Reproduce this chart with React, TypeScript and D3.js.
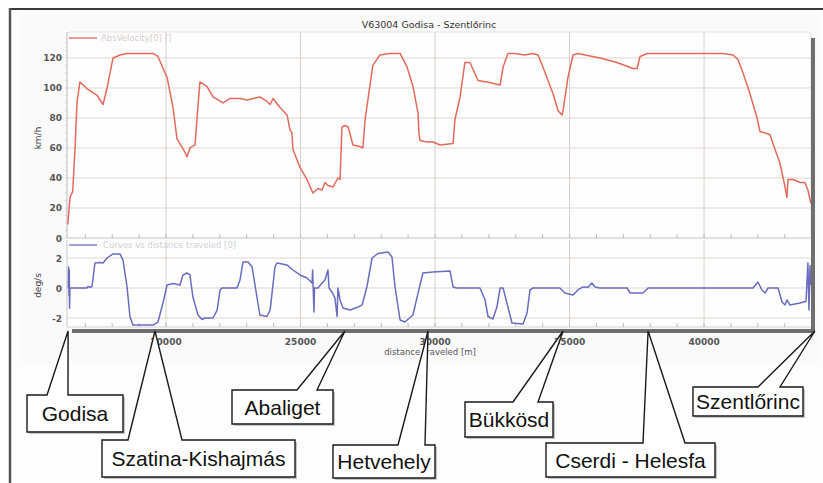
import * as d3 from "d3";

// distance traveled [m] and absolute velocity [km/h]
const velDist = [16350, 16430, 16530, 16620, 16690, 16800, 17100, 17440, 17660, 17810, 18030, 18290, 18550, 19030, 19520, 19700, 20040, 20260, 20410, 20710, 20780, 20890, 21080, 21150, 21260, 21520, 21750, 22120, 22380, 22750, 23010, 23230, 23490, 23750, 23870, 23980, 24240, 24500, 24610, 24680, 24720, 24980, 25240, 25460, 25650, 25800, 25910, 26020, 26210, 26360, 26390, 26470, 26540, 26650, 26770, 26950, 27210, 27320, 27400, 27690, 27950, 28330, 28700, 28960, 29180, 29370, 29400, 29440, 29700, 29920, 30190, 30670, 30740, 30930, 31110, 31300, 31600, 31930, 32420, 32530, 32710, 32970, 33340, 33640, 33830, 34010, 34390, 34570, 34720, 34760, 34940, 35130, 35310, 36130, 36760, 37360, 37510, 37620, 37880, 38620, 39850, 40700, 41080, 41260, 41450, 41710, 41970, 42080, 42450, 42560, 42820, 43010, 43080, 43120, 43310, 43570, 43750, 43860, 43970];
const velValue = [9, 27, 31, 60, 90, 104, 99, 95, 89, 100, 120, 122, 123, 123, 123, 121, 107, 87, 66, 57, 54, 60, 62, 79, 104, 101, 94, 90, 93, 93, 92, 93, 94, 91, 89, 93, 87, 82, 72, 70, 59, 47, 39, 30, 33, 32, 37, 35, 34, 39, 40, 39, 74, 75, 74, 62, 61, 60, 79, 115, 122, 123, 123, 114, 101, 83, 70, 65, 64, 64, 62, 63, 79, 94, 117, 117, 105, 104, 102, 114, 123, 123, 122, 123, 122, 114, 96, 85, 82, 85, 107, 122, 123, 120, 117, 113, 113, 121, 123, 123, 123, 123, 122, 119, 110, 96, 80, 71, 69, 63, 50, 34, 27, 39, 39, 37, 37, 32, 23];

// distance traveled [m] and curvature [deg/s]
const curveDist = [16360, 16370, 16380, 16395, 16405, 16415, 16430, 16510, 17060, 17100, 17180, 17250, 17360, 17550, 17660, 17810, 18030, 18290, 18400, 18550, 18660, 18770, 19520, 19700, 19850, 20040, 20260, 20520, 20630, 20780, 20890, 21000, 21190, 21340, 21450, 21750, 21900, 22010, 22080, 22640, 22750, 22860, 23050, 23200, 23380, 23490, 23750, 23870, 24050, 24130, 24500, 24720, 24980, 25240, 25430, 25450, 25470, 25500, 25520, 25650, 25800, 25910, 26020, 26060, 26170, 26280, 26360, 26390, 26470, 26580, 26840, 27140, 27290, 27470, 27660, 27880, 28250, 28400, 28510, 28700, 28880, 29180, 29370, 29550, 29920, 30560, 30670, 30820, 31670, 31860, 31970, 32150, 32300, 32420, 32530, 32710, 32860, 33270, 33420, 33530, 33640, 34640, 34830, 35130, 35310, 35500, 35690, 35830, 35950, 36130, 37140, 37250, 37730, 37920, 41820, 42000, 42150, 42270, 42380, 42750, 42900, 43010, 43080, 43190, 43570, 43680, 43790, 43860, 43900, 43940, 43970];
const curveValue = [0, 0, 1.4, -0.5, 1.2, -1.35, 0, 0, 0, 0.1, 0.05, 0.1, 1.67, 1.7, 1.67, 2.0, 2.27, 2.27, 1.87, 0.1, -1.9, -2.47, -2.47, -2.27, -1.27, 0.2, 0.3, 0.2, 0.87, 1.0, 0.87, -0.6, -1.8, -2.1, -2.0, -2.0, -1.47, -0.13, 0, 0, 0.53, 1.73, 1.73, 1.4, -0.6, -1.8, -1.9, -1.47, 1.4, 1.67, 1.53, 1.2, 0.87, 0.67, 0.33, 1.2, 0.1, -1.6, 0, 0, 0.33, 0.53, 1.2, 0, -0.27, -0.67, -1.9, 0, -0.8, -1.33, -1.47, -1.27, -1.13, 0.1, 2.0, 2.3, 2.4, 2.07, 0.1, -2.13, -2.27, -1.8, -0.33, 1.0, 1.07, 1.13, 0.07, 0, 0, -0.8, -1.9, -2.07, -1.27, 0, 0, -1.27, -2.33, -2.4, -1.67, -0.13, 0, 0, -0.33, -0.47, -0.13, 0.07, 0.05, 0.33, 0.07, 0, 0, -0.33, -0.33, 0, 0, 0.4, -0.13, -0.33, 0, 0, -0.93, -1.13, -0.8, -1.13, -1.0, -0.93, -0.9, 1.67, -1.47, 1.5, 0.2];

const xTicks = [20000, 25000, 30000, 35000, 40000];
const velTicks = [0, 20, 40, 60, 80, 100, 120];
const curveTicks = [-2, 0, 2];

const stationNames = ["Godisa", "Szatina-Kishajmás", "Abaliget", "Hetvehely", "Bükkösd", "Cserdi - Helesfa", "Szentlőrinc"];
const stationDist = [16360, 19590, 26650, 29740, 34760, 37920, 44120];

// callout box layout: box left/top/right/bottom and pointer base x on the box top
const calloutBoxes = [
  { x0: 27, y0: 395, x1: 123, y1: 432, b0: 47, b1: 68 },
  { x0: 102, y0: 440, x1: 295, y1: 477, b0: 128, b1: 182 },
  { x0: 232, y0: 390, x1: 333, y1: 424, b0: 297, b1: 317 },
  { x0: 333, y0: 445, x1: 435, y1: 478, b0: 398, b1: 425 },
  { x0: 465, y0: 402, x1: 553, y1: 437, b0: 513, b1: 538 },
  { x0: 546, y0: 443, x1: 715, y1: 477, b0: 643, b1: 685 },
  { x0: 693, y0: 387, x1: 803, y1: 416, b0: 758, b1: 780 },
];

const W = 823;
const H = 483;
const left = 67;
const right = 811;
const topA = 32;
const bottomA = 238;
const topB = 240;
const bottomB = 327;
const tipY = 331;

export default function App() {
  const x = d3.scaleLinear().domain([16320, 43975]).range([left, right]);
  const yA = d3.scaleLinear().domain([0, 137.3]).range([bottomA, topA]);
  const yB = d3.scaleLinear().domain([-2.6, 3.2]).range([bottomB, topB]);

  const velPts = velDist.map((d, i) => [d, velValue[i]] as [number, number]);
  const curvePts = curveDist.map((d, i) => [d, curveValue[i]] as [number, number]);

  const velLine = d3.line<[number, number]>().x(d => x(d[0])).y(d => yA(d[1]));
  const curveLine = d3.line<[number, number]>().x(d => x(d[0])).y(d => yB(d[1]));

  // minor ticks every 1000 m
  const minor = d3.range(17000, 44000, 1000);
  const velMinor = d3.range(0, 135, 5);

  const font = "DejaVu Sans, sans-serif";
  const gridCol = "#e2d6d0";
  const vGridCol = "#d6cfcb";

  return (
    <svg width={W} height={H} style={{ position: "absolute", left: 0, top: 0, background: "#fff" }}>
      {/* widget background */}
      <rect x={10} y={10} width={813} height={473} fill="#fdfdfd" />
      <rect x={20} y={14} width={800} height={350} fill="#fafafa" />
      {/* outer frame */}
      <line x1={10} y1={9} x2={823} y2={9} stroke="#3a3a3a" strokeWidth={2} />
      <line x1={10} y1={8} x2={10} y2={483} stroke="#555" strokeWidth={2.5} />

      <text x={429} y={28} textAnchor="middle" fontFamily={font} fontSize={9.5} fill="#333">
        V63004 Godisa - Szentlőrinc
      </text>

      {/* panel backgrounds */}
      <rect x={left} y={topA} width={right - left} height={bottomA - topA} fill="#fefefe" stroke="#dcdcdc" strokeWidth={0.8} rx={3} />
      <rect x={left} y={topB} width={right - left} height={bottomB - topB} fill="#fefefe" />

      {/* grids upper */}
      {velTicks.filter(t => t > 0).map(t => (
        <line key={"ga" + t} x1={left} x2={right} y1={yA(t)} y2={yA(t)} stroke={gridCol} strokeWidth={1} />
      ))}
      {xTicks.map(t => (
        <line key={"gv" + t} x1={x(t)} x2={x(t)} y1={topA} y2={bottomA} stroke={vGridCol} strokeWidth={1} />
      ))}
      {/* grids lower */}
      {curveTicks.map(t => (
        <line key={"gb" + t} x1={left} x2={right} y1={yB(t)} y2={yB(t)} stroke={gridCol} strokeWidth={1} />
      ))}
      {xTicks.map(t => (
        <line key={"gw" + t} x1={x(t)} x2={x(t)} y1={topB} y2={bottomB} stroke={vGridCol} strokeWidth={1} />
      ))}

      {/* panel bottom edges with minor ticks */}
      <line x1={left} x2={right} y1={bottomA} y2={bottomA} stroke="#d4d4d4" strokeWidth={1} />
      <line x1={left} x2={right} y1={bottomB} y2={bottomB} stroke="#d4d4d4" strokeWidth={1} />
      {minor.map(m => (
        <g key={"mt" + m}>
          <line x1={x(m)} x2={x(m)} y1={bottomA} y2={bottomA - 4} stroke="#bbb" strokeWidth={1} />
          <line x1={x(m)} x2={x(m)} y1={bottomB} y2={bottomB - 4} stroke="#bbb" strokeWidth={1} />
        </g>
      ))}
      {/* y axes */}
      <line x1={left} x2={left} y1={topA} y2={bottomA} stroke="#c8c8c8" strokeWidth={1} />
      <line x1={left} x2={left} y1={topB} y2={bottomB} stroke="#c8c8c8" strokeWidth={1} />
      {velMinor.map(v => (
        <line key={"vm" + v} x1={left - 2} x2={left} y1={yA(v)} y2={yA(v)} stroke="#ccc" strokeWidth={0.8} />
      ))}

      {/* tick labels */}
      {velTicks.map(t => (
        <text key={"la" + t} x={62} y={yA(t) + 3.5} textAnchor="end" fontFamily={font} fontSize={9} fontWeight="bold" fill="#555">
          {t}
        </text>
      ))}
      {curveTicks.map(t => (
        <text key={"lb" + t} x={62} y={yB(t) + 3.5} textAnchor="end" fontFamily={font} fontSize={9} fontWeight="bold" fill="#555">
          {t}
        </text>
      ))}
      {xTicks.map(t => (
        <text key={"lx" + t} x={x(t)} y={345} textAnchor="middle" fontFamily={font} fontSize={9} fontWeight="bold" fill="#555">
          {t}
        </text>
      ))}
      <text transform={`translate(41,${(topA + bottomA) / 2 + 3}) rotate(-90)`} textAnchor="middle" fontFamily={font} fontSize={9} fill="#444">
        km/h
      </text>
      <text transform={`translate(41,${(topB + bottomB) / 2 + 2}) rotate(-90)`} textAnchor="middle" fontFamily={font} fontSize={9} fill="#444">
        deg/s
      </text>
      <text x={430} y={355} textAnchor="middle" fontFamily={font} fontSize={8.5} fill="#555">
        distance traveled   [m]
      </text>

      {/* legends */}
      <line x1={69} x2={97} y1={38} y2={38} stroke="#e0685c" strokeWidth={1.3} />
      <text x={101} y={41} fontFamily={font} fontSize={8.5} fill="#d8cccc">AbsVelocity[0] []</text>
      <line x1={69} x2={97} y1={245} y2={245} stroke="#6a6cc0" strokeWidth={1.3} />
      <text x={103} y={248} fontFamily={font} fontSize={8.5} fill="#cfcfd6">Curves vs distance traveled [0]</text>

      {/* data */}
      <path d={velLine(velPts) || ""} fill="none" stroke="#e26a5c" strokeWidth={1.5} strokeLinejoin="round" />
      <path d={curveLine(curvePts) || ""} fill="none" stroke="#6a6cc0" strokeWidth={1.5} strokeLinejoin="round" />

      {/* shadow frame */}
      <rect x={811} y={38} width={4} height={295} fill="#6e6e6e" />
      <rect x={72} y={329} width={743} height={4} fill="#6e6e6e" />

      {/* station callouts */}
      {stationNames.map((name, i) => {
        const b = calloutBoxes[i];
        const tx = x(stationDist[i]);
        const path = `M${b.x0},${b.y0} L${b.b0},${b.y0} L${tx},${tipY} L${b.b1},${b.y0} L${b.x1},${b.y0} L${b.x1},${b.y1} L${b.x0},${b.y1} Z`;
        return (
          <g key={name}>
            <rect x={b.x0 + 2} y={b.y0 + 2} width={b.x1 - b.x0} height={b.y1 - b.y0} fill="#c4c4c4" />
            <path d={path} fill="#fff" stroke="#1a1a1a" strokeWidth={1.4} strokeLinejoin="miter" />
            <text x={(b.x0 + b.x1) / 2} y={(b.y0 + b.y1) / 2 + 7.5} textAnchor="middle" fontFamily="Liberation Sans, Arial, sans-serif" fontSize={21} fill="#111">
              {name}
            </text>
          </g>
        );
      })}
    </svg>
  );
}
